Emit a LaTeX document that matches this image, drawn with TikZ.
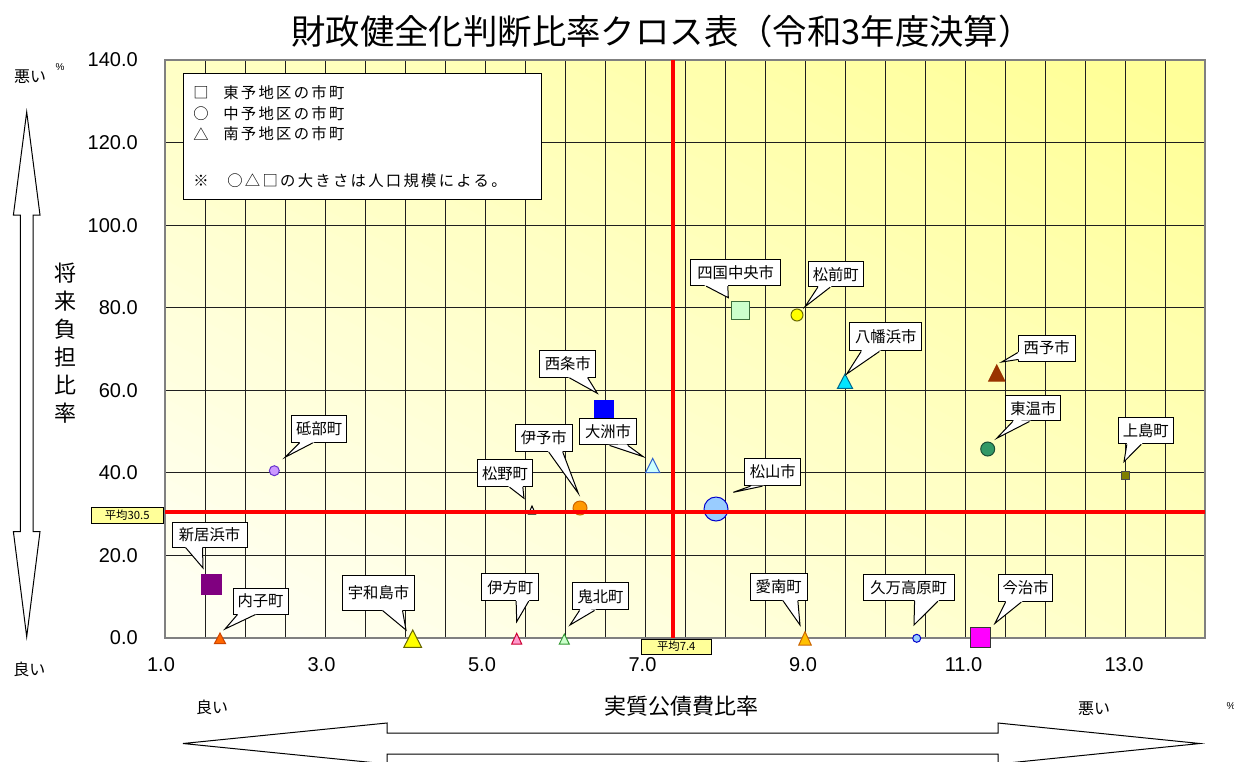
\documentclass[tikz,border=0pt]{standalone}
\usepackage{fontspec}
\setmainfont{Noto Sans CJK JP}
\newfontfamily\numf{Liberation Sans}
\usetikzlibrary{calc}
\definecolor{plotpale}{HTML}{FFFFF2}
\definecolor{plotdeep}{HTML}{FFFF99}
\definecolor{avgfill}{HTML}{FFFF99}
\definecolor{cPurple}{HTML}{800080}
\definecolor{cLtGreen}{HTML}{CCFFCC}
\definecolor{cDkGreen}{HTML}{3C6E3C}
\definecolor{cBlue}{HTML}{0000FF}
\definecolor{cMagenta}{HTML}{FF00FF}
\definecolor{cOlive}{HTML}{808000}
\definecolor{cOliveD}{HTML}{6B6B00}
\definecolor{cLtBlue}{HTML}{99CCFF}
\definecolor{cBlueD}{HTML}{0000CC}
\definecolor{cOrange}{HTML}{FF9900}
\definecolor{cOrangeD}{HTML}{CC6600}
\definecolor{cLav}{HTML}{CC99FF}
\definecolor{cLavD}{HTML}{6633CC}
\definecolor{cDkGrn}{HTML}{339966}
\definecolor{cDkGrnD}{HTML}{1A4D33}
\definecolor{cOrA}{HTML}{FF6600}
\definecolor{cOrAD}{HTML}{CC4400}
\definecolor{cYel}{HTML}{FFFF00}
\definecolor{cYelD}{HTML}{666600}
\definecolor{cPink}{HTML}{FF99CC}
\definecolor{cPinkD}{HTML}{CC0033}
\definecolor{cMint}{HTML}{CCFFCC}
\definecolor{cMintD}{HTML}{339933}
\definecolor{cIce}{HTML}{CCFFFF}
\definecolor{cIceD}{HTML}{3366CC}
\definecolor{cAmber}{HTML}{FFC000}
\definecolor{cAmberD}{HTML}{CC6600}
\definecolor{cCyan}{HTML}{00E5FF}
\definecolor{cCyanD}{HTML}{00688B}
\definecolor{cBrown}{HTML}{993300}
\newcommand\callout[8]{%
  \node[callbox, minimum width=#3, minimum height=#4] (#1) at (#2) {#5};
  \coordinate (#1-tip) at (#6);
  \coordinate (#1-b1) at ($(#1.south west)+(#7,0)$);
  \coordinate (#1-b2) at ($(#1.south west)+(#8,0)$);
  \fill[white] ($(#1-b1)!-1.5pt!(#1-tip)$) -- (#1-tip) -- ($(#1-b2)!-1.5pt!(#1-tip)$) -- cycle;
  \draw[callline] (#1-b1) -- (#1-tip) -- (#1-b2);
}
\newcommand\calloutL[8]{%
  \node[callbox, minimum width=#3, minimum height=#4] (#1) at (#2) {#5};
  \coordinate (#1-tip) at (#6);
  \coordinate (#1-b1) at ($(#1.south west)+(0,-#7)$);
  \coordinate (#1-b2) at ($(#1.south west)+(0,-#8)$);
  \fill[white] ($(#1-b1)!-1.5pt!(#1-tip)$) -- (#1-tip) -- ($(#1-b2)!-1.5pt!(#1-tip)$) -- cycle;
  \draw[callline] (#1-b1) -- (#1-tip) -- (#1-b2);
}
\newcommand\trimark[7]{%
  \coordinate (#1) at (#2,#3);
  \filldraw[fill=#6, draw=#7, line width=0.75pt, line join=miter] (#1) -- ({#2-#5},#4) -- ({#2+#5},#4) -- cycle;
}
\begin{document}
\begin{tikzpicture}[x=0.75pt,y=-0.75pt,
  gridline/.style={draw=black!88, line width=0.75pt},
  plotborder/.style={draw=black!50, line width=1.1pt},
  avgline/.style={draw=red, line width=3pt},
  callbox/.style={draw=black, fill=white, line width=0.75pt, inner sep=0pt, font=\fontsize{11.5}{13}\selectfont},
  callline/.style={draw=black, line width=0.75pt, line join=miter},
  avgbox/.style={draw=black, fill=avgfill, line width=0.6pt, inner sep=0pt, font=\fontsize{8.5}{10}\selectfont},
  ticklbl/.style={font=\numf\fontsize{15}{17}\selectfont, inner sep=0pt},
  sqmark/.style={rectangle, draw, line width=0.75pt, inner sep=0pt, minimum size=#1},
  cimark/.style={circle, draw, line width=0.75pt, inner sep=0pt, minimum size=#1},
  blockarrow/.style={draw=black, fill=white, line width=0.75pt, line join=miter},
  lbl/.style={inner sep=0pt, font=\fontsize{12}{14}\selectfont},
  pct/.style={inner sep=0pt, font=\numf\fontsize{7.5}{8}\selectfont},
  legtxt/.style={inner sep=0pt, anchor=west, font=\fontsize{11.5}{13}\selectfont\addfontfeature{LetterSpace=15}},
  legsym/.style={inner sep=0pt, anchor=west, font=\fontsize{11.5}{13}\selectfont},
]
\useasboundingbox (0,0) rectangle (1234,761);
\fill[white] (0,0) rectangle (1234,761);
% plot area: diagonal gradient, pale at lower left, deep yellow at upper right
\begin{scope}
  \clip (165,60) rectangle (1205,638);
  \foreach \i in {0,...,59} {
    \pgfmathsetmacro\sa{-520+17.34*\i}
    \pgfmathsetmacro\sb{\sa+18.5}
    \pgfmathtruncatemacro\pc{min(100,max(0,(\i-3)*100/52))}
    \fill[plotdeep!\pc!plotpale]
      ({685+\sa*0.485-800*0.875},{349-\sa*0.875-800*0.485}) --
      ({685+\sa*0.485+800*0.875},{349-\sa*0.875+800*0.485}) --
      ({685+\sb*0.485+800*0.875},{349-\sb*0.875+800*0.485}) --
      ({685+\sb*0.485-800*0.875},{349-\sb*0.875-800*0.485}) -- cycle;
  }
\end{scope}
\foreach \i in {1,...,25} \draw[gridline] ({165+40*\i},60) -- ({165+40*\i},638);
\foreach \j in {1,...,6} \draw[gridline] (165,{638-82.571*\j}) -- (1205,{638-82.571*\j});
\draw[plotborder] (165,60) rectangle (1205,638);
% tick labels
\foreach \j/\lab in {0/0.0,1/20.0,2/40.0,3/60.0,4/80.0,5/100.0,6/120.0,7/140.0}
  \node[ticklbl, anchor=east] (yt\j) at (138,{638-82.571*\j}) {\lab};
\foreach \k/\lab in {0/1.0,1/3.0,2/5.0,3/7.0,4/9.0,5/11.0,6/13.0}
  \node[ticklbl] (xt\k) at ({161+160.5*\k},665) {\lab};
% squares
\node[sqmark=15pt, fill=cPurple, draw=cPurple] (s1) at (211,584.7) {};
\node[sqmark=13.1pt, fill=cLtGreen, draw=cDkGreen] (s2) at (740.5,310.3) {};
\node[sqmark=14.25pt, fill=cBlue, draw=cBlue] (s3) at (603.7,409.5) {};
\node[sqmark=15pt, fill=cMagenta, draw=black!80] (s4) at (980,637.5) {};
\node[sqmark=6pt, fill=cOlive, draw=black!70] (s5) at (1125.5,475.5) {};
% circles
\node[cimark=9pt, fill=cYel, draw=cOliveD] (k1) at (797,315) {};
\node[cimark=18pt, fill=cLtBlue, draw=cBlueD] (k2) at (716,509) {};
\node[cimark=10.5pt, fill=cOrange, draw=cOrangeD] (k3) at (580,508) {};
\node[cimark=7.5pt, fill=cLav, draw=cLavD] (k4) at (274.3,470.7) {};
\node[cimark=10.5pt, fill=cDkGrn, draw=cDkGrnD] (k5) at (987.7,449) {};
\node[cimark=6pt, fill=cLtBlue, draw=cBlueD] (k6) at (916.7,638.3) {};
% triangles
\trimark{t1}{220}{633}{643.5}{5.5}{cOrA}{cOrAD}
\trimark{t2}{412.7}{630}{647.3}{8.85}{cYel}{cYelD}
\trimark{t3}{516.7}{633.3}{644}{5}{cPink}{cPinkD}
\trimark{t4}{564.3}{634}{644}{5}{cMint}{cMintD}
\trimark{t5}{652.7}{458.3}{472.7}{7.15}{cIce}{cIceD}
\trimark{t6}{532}{506}{514}{3.5}{white}{black}
\trimark{t7}{805}{631.7}{645}{6.2}{cAmber}{cAmberD}
\trimark{t8}{845}{374}{388.3}{7.5}{cCyan}{cCyanD}
\trimark{t9}{996.7}{365}{381}{8}{cBrown}{cBrown}
% average lines
\draw[avgline] (165,512) -- (1205,512);
\draw[avgline] (673,60) -- (673,638);
% callouts
\callout{c1}{209.5,534.5}{56.25pt}{18.75pt}{新居浜市}{203,568}{14}{31}
\callout{c2}{260.5,601}{41.25pt}{19.5pt}{内子町}{225,629}{5}{23}
\callout{c3}{378.5,592.75}{54pt}{25.9pt}{宇和島市}{406,630}{40.5}{60.5}
\callout{c4}{510.3,587.3}{43pt}{20pt}{伊方町}{516.7,621.7}{35}{47.6}
\callout{c5}{600.5,596.3}{41.7pt}{20.5pt}{鬼北町}{570,625}{7.3}{22.3}
\callout{c6}{778.7,586.7}{43pt}{20pt}{愛南町}{800,625}{33.3}{48.3}
\callout{c7}{908.7,587.5}{68pt}{19.8pt}{久万高原町}{914,625}{51.7}{75}
\callout{c8}{1025.5,588}{40.8pt}{20.5pt}{今治市}{995,623.3}{7.7}{23.4}
\callout{c9}{1145.8,430.8}{41.25pt}{19.7pt}{上島町}{1124,461.7}{9}{23.4}
\callout{c10}{1033.3,408.3}{41.5pt}{19pt}{東温市}{996.7,438.3}{7.6}{24.3}
\calloutL{c11}{1046.7,348}{42.5pt}{19.5pt}{西予市}{1001.7,362}{9}{2}
\callout{c12}{885.8,336.8}{53.8pt}{21.2pt}{八幡浜市}{846.7,374}{11.7}{30}
\callout{c13}{835.8,274.2}{41.25pt}{18.75pt}{松前町}{805,306.7}{10}{22.4}
\callout{c14}{735.7,272.8}{67.5pt}{19.3pt}{四国中央市}{728.3,297.7}{16}{37.6}
\callout{c15}{567.8,364}{41.8pt}{20pt}{西条市}{597.3,393.3}{30}{48.3}
\callout{c16}{608,431.8}{43pt}{19.7pt}{大洲市}{643.3,456.7}{30.7}{49}
\callout{c17}{543.8,438}{42.75pt}{20.5pt}{伊予市}{578.3,493.3}{34}{48}
\callout{c18}{505,473.3}{41.5pt}{20pt}{松野町}{524,498.3}{32.7}{46}
\callout{c19}{319.2,428.7}{41.25pt}{20.5pt}{砥部町}{285,457.3}{8.3}{21.6}
\callout{c20}{772.8,472}{41.8pt}{20.5pt}{松山市}{733.3,492.3}{6}{18}
% legend
\node[draw=black, fill=white, line width=0.75pt, minimum width=268.5pt, minimum height=94.6pt, inner sep=0pt] (legend) at (362,136.4) {};
\node[legsym] (lg1s) at (193,93) {□};
\node[legtxt] (lg1) at (223,93) {東予地区の市町};
\node[legsym] (lg2s) at (193,113.5) {○};
\node[legtxt] (lg2) at (223,113.5) {中予地区の市町};
\node[legsym] (lg3s) at (193,134) {△};
\node[legtxt] (lg3) at (223,134) {南予地区の市町};
\node[legsym] (lg4s) at (193,181) {※};
\node[legtxt] (lg4) at (227,181) {○△□の大きさは人口規模による。};
% average labels
\node[avgbox, minimum width=54.2pt, minimum height=12pt] (avgy) at (127.2,515.3) {平均30.5};
\node[avgbox, minimum width=53pt, minimum height=11.25pt] (avgx) at (676.3,646.5) {平均7.4};
% title and axis labels
\node[inner sep=0pt, font=\fontsize{25.8}{30}\selectfont] (title) at (662,31) {財政健全化判断比率クロス表（令和3年度決算）};
\node[inner sep=0pt, align=center, font=\fontsize{16.5}{21}\selectfont] (ylab) at (65,343) {将\\来\\負\\担\\比\\率};
\node[inner sep=0pt, font=\fontsize{16.5}{20}\selectfont] (xlab) at (681,706) {実質公債費比率};
\node[lbl] (worse1) at (30,77) {悪い};
\node[pct] (pct1) at (60,67) {\%};
\node[lbl] (good1) at (29.5,669) {良い};
\node[lbl] (good2) at (212,707.5) {良い};
\node[lbl] (worse2) at (1094,709) {悪い};
\node[pct] (pct2) at (1231,706) {\%};
% block arrows
\draw[blockarrow] (26.7,112) -- (40,215) -- (33,215) -- (33,531.7) -- (40,531.7) -- (26.7,636.7) -- (13.4,531.7) -- (20.4,531.7) -- (20.4,215) -- (13.4,215) -- cycle;
\draw[blockarrow] (183,743.5) -- (387,723) -- (387,733) -- (998,733) -- (998,723) -- (1200,743.5) -- (998,764) -- (998,754) -- (387,754) -- (387,764) -- cycle;
\end{tikzpicture}
\end{document}
